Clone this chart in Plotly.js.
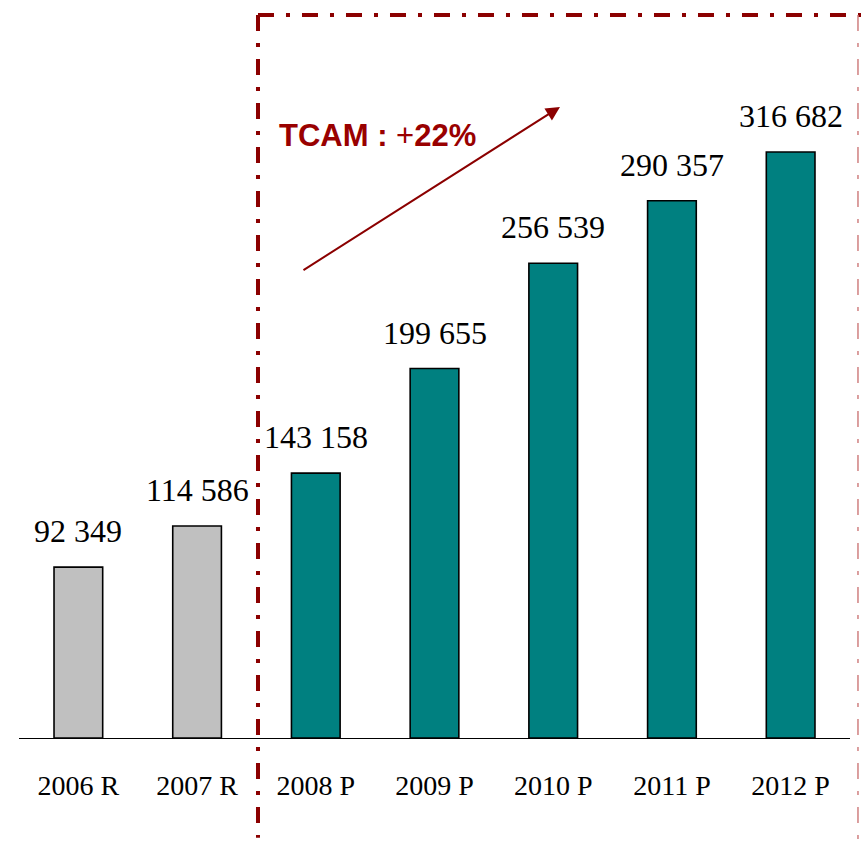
<!DOCTYPE html>
<html>
<head>
<meta charset="utf-8">
<script src="https://cdn.plot.ly/plotly-3.0.1.min.js"></script>
<style>html,body{margin:0;padding:0;background:#fff;}#chart{width:861px;height:845px;}</style>
</head>
<body>
<div id="chart"></div>
<script>
const categories = ["2006 R", "2007 R", "2008 P", "2009 P", "2010 P", "2011 P", "2012 P"];
const values = [92349, 114586, 143158, 199655, 256539, 290357, 316682];
const valueLabels = ["92 349", "114 586", "143 158", "199 655", "256 539", "290 357", "316 682"];
const barColors = ["#c0c0c0", "#c0c0c0", "#008080", "#008080", "#008080", "#008080", "#008080"];

const trace = {
  type: "bar",
  x: categories,
  y: values,
  width: 0.41,
  marker: { color: barColors, line: { color: "#000", width: 1.6 } },
  hoverinfo: "none"
};

const darkRed = "#8b0000";
const dashPattern = "16px,12px,4px,12px";

const annotations = categories.map((c, i) => ({
  x: c, y: values[i], xref: "x", yref: "y",
  text: valueLabels[i], showarrow: false,
  yanchor: "bottom", yshift: 16,
  font: { family: "Liberation Serif, Times New Roman, serif", size: 32, color: "#000" }
}));

annotations.push({
  xref: "paper", yref: "paper", x: 0.651, y: 0.855,
  axref: "pixel", ayref: "pixel", ax: -258, ay: 164,
  showarrow: true, arrowhead: 2, arrowsize: 1.4, arrowwidth: 2, arrowcolor: darkRed,
  text: ""
});
annotations.push({
  xref: "paper", yref: "paper", x: 0.3105, y: 0.817,
  xanchor: "left", yanchor: "middle", showarrow: false,
  text: "<b>TCAM :</b> +<b>22%</b>",
  font: { family: "Liberation Sans, Arial, sans-serif", size: 31, color: "#990000" }
});

const shapes = [
  { type: "line", xref: "paper", yref: "paper", x0: 0.2876, x1: 0.2876, y0: 0.9797, y1: -0.135,
    line: { color: darkRed, width: 4, dash: dashPattern } },
  { type: "line", xref: "paper", yref: "paper", x0: 0.2876, x1: 1.02, y0: 0.9797, y1: 0.9797,
    line: { color: darkRed, width: 4, dash: dashPattern } },
  { type: "line", xref: "paper", yref: "paper", x0: 1.0096, x1: 1.0096, y0: 0.9797, y1: -0.15,
    line: { color: "#d08080", width: 1.5, dash: dashPattern } }
];

const layout = {
  width: 861, height: 845,
  margin: { l: 19, r: 11, t: 0, b: 107 },
  paper_bgcolor: "#fff", plot_bgcolor: "#fff",
  showlegend: false,
  xaxis: {
    type: "category", range: [-0.5, 6.5],
    showline: true, linecolor: "#000", linewidth: 1,
    showgrid: false, zeroline: false, ticks: "",
    ticklabelstandoff: 22,
    tickfont: { family: "Liberation Serif, Times New Roman, serif", size: 28, color: "#000" }
  },
  yaxis: { range: [0, 398800], visible: false, showgrid: false, zeroline: false, fixedrange: true },
  annotations: annotations,
  shapes: shapes
};

Plotly.newPlot("chart", [trace], layout, { displayModeBar: false, staticPlot: true });
</script>
</body>
</html>
